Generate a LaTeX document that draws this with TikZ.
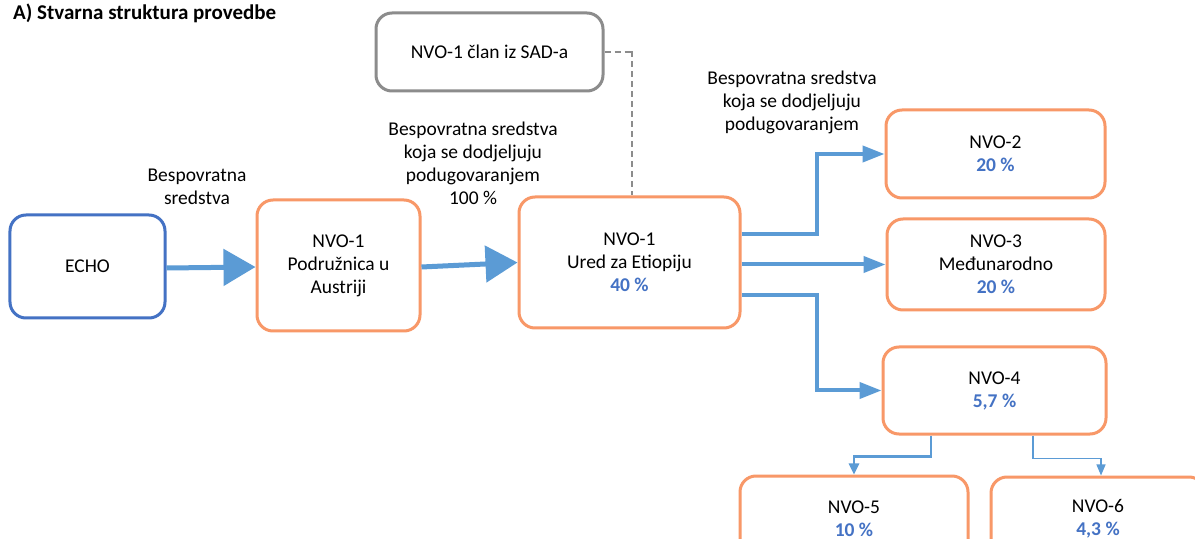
\documentclass[tikz,border=0pt]{standalone}
\usepackage{fontspec}
\setmainfont{Carlito}
\usetikzlibrary{arrows.meta,calc}
\definecolor{orng}{RGB}{248,152,104}
\definecolor{bluebox}{RGB}{68,114,196}
\definecolor{arr}{RGB}{91,155,213}
\definecolor{gry}{RGB}{140,140,140}
\definecolor{pct}{RGB}{68,114,196}
\newcommand{\pc}[1]{\textcolor{pct}{\bfseries #1}}
\begin{document}
\begin{tikzpicture}[x=1bp,y=-1bp,
  txt/.style={font=\fontsize{19.5bp}{23bp}\selectfont, align=center},
  box/.style={txt, draw=orng, rounded corners=16bp, line width=3bp, inner sep=0pt, fill=white},
  bigarrow/.style={draw=arr, line width=5bp, -{Triangle[length=32bp,width=36bp]}},
  midarrow/.style={draw=arr, line width=4bp, -{Triangle[length=22bp,width=16bp]}},
  smallarrow/.style={draw=arr, line width=2.5bp, -{Triangle[length=11bp,width=10bp]}},
  thinarrow/.style={draw=arr, line width=1.2bp, -{Triangle[length=11bp,width=9bp]}},
  lbl/.style={txt, inner sep=0pt}
]
\useasboundingbox (0,0) rectangle (1195,539);
\clip (0,0) rectangle (1195,539);
\fill[white] (0,0) rectangle (1195,539);

\node[anchor=base west, inner sep=0pt, font=\fontsize{21bp}{24bp}\selectfont\bfseries] (title) at (13,19.5) {A) Stvarna struktura provedbe};

\node[box, draw=bluebox, minimum width=155bp, minimum height=103bp] (echo) at (87.5,266.5) {ECHO};
\node[box, minimum width=163bp, minimum height=131bp] (pod) at (338.5,265.5) {NVO-1\\Podružnica u\\Austriji};
\node[box, minimum width=221bp, minimum height=131bp] (ured) at (629.5,262.5) {NVO-1\\Ured za Etiopiju\\\pc{40 \%}};
\node[box, draw=gry, minimum width=227bp, minimum height=78bp] (sad) at (489.5,52) {NVO-1 član iz SAD-a};
\node[box, minimum width=219bp, minimum height=88bp] (nvo2) at (995.5,154) {NVO-2\\\pc{20 \%}};
\node[box, minimum width=218bp, minimum height=91bp] (nvo3) at (996,264.5) {NVO-3\\Međunarodno\\\pc{20 \%}};
\node[box, minimum width=223bp, minimum height=87bp] (nvo4) at (994.5,390.5) {NVO-4\\\pc{5,7 \%}};
\node[box, minimum width=228bp, minimum height=85bp] (nvo5) at (854,518.5) {NVO-5\\\pc{10 \%}};
\node[box, minimum width=214bp, minimum height=83bp] (nvo6) at (1098,518.5) {NVO-6\\\pc{4,3 \%}};

\node[lbl] (l1) at (197,187) {Bespovratna\\sredstva};
\node[lbl] (l2) at (473,163.5) {Bespovratna sredstva\\koja se dodjeljuju\\podugovaranjem\\100 \%};
\node[lbl] (l3) at (792,102) {Bespovratna sredstva\\koja se dodjeljuju\\podugovaranjem};

\draw[bigarrow] ($(echo.east)+(0,1.5)$) -- ($(pod.west)+(0,1.5)$);
\draw[bigarrow] ($(pod.east)+(0,1.5)$) -- (ured.west);
\draw[midarrow] ($(ured.east)+(0,-28.5)$) -- ++(75,0) |- (nvo2.west);
\draw[midarrow] (ured.east |- nvo3.west) -- (nvo3.west);
\draw[midarrow] ($(ured.east)+(0,32.5)$) -- ++(75,0) |- (nvo4.west);
\draw[smallarrow] ($(nvo4.south)+(-63.5,0)$) -- ++(0,21) -| (nvo5.north);
\draw[thinarrow] ($(nvo4.south)+(38.5,0)$) -- ++(0,23) -| ($(nvo6.north)+(3,0)$);
\draw[gry, line width=2bp, dash pattern=on 6bp off 4bp] (sad.east) -- ++(29,0) -| ($(ured.north)+(2.5,0)$);
\end{tikzpicture}
\end{document}
